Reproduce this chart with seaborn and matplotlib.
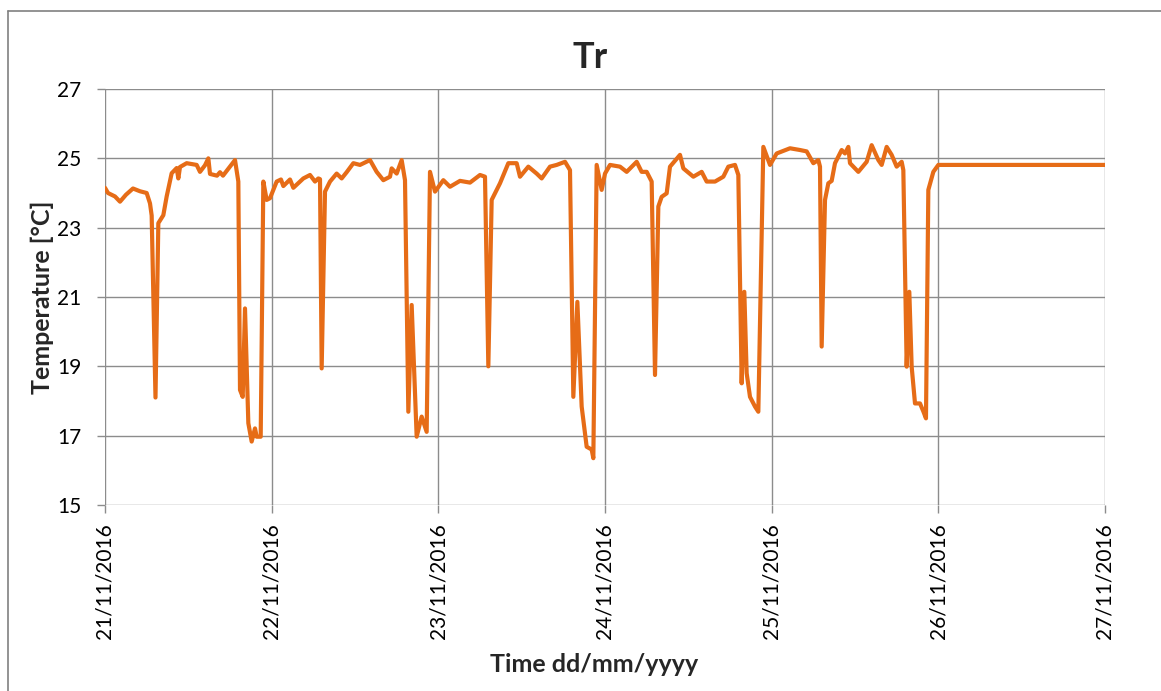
import matplotlib
matplotlib.use("Agg")
import matplotlib.pyplot as plt
import matplotlib.dates as mdates
from matplotlib.lines import Line2D
import seaborn as sns
import pandas as pd
import numpy as np

# ---- data (hours since 21/11/2016 00:00, temperature in °C) ----
hours = [0.0, 0.43, 1.44, 2.16, 3.02, 4.03, 5.04, 6.0, 6.48, 6.72, 6.91, 7.27, 7.68, 8.4, 8.88,
         9.6, 10.32, 10.56, 10.8, 11.76, 13.2, 13.68, 14.4, 14.88, 15.12, 16.13, 16.56, 16.99,
         18.0, 18.72, 19.2, 19.44, 19.83, 20.16, 20.64, 21.12, 21.6, 21.84, 22.42, 22.8, 23.28,
         23.76, 24.72, 25.34, 25.68, 26.64, 27.12, 28.56, 29.52, 30.24, 30.72, 30.96, 31.2,
         31.68, 32.4, 33.36, 34.08, 34.8, 35.76, 36.72, 38.16, 39.12, 40.08, 41.04, 41.28, 42.0,
         42.72, 43.2, 43.68, 44.16, 44.88, 45.6, 46.32, 46.8, 47.52, 48.72, 49.68, 51.12, 52.56,
         54.0, 54.72, 55.2, 55.68, 56.88, 58.08, 59.28, 59.76, 60.96, 62.16, 62.88, 64.08,
         65.04, 66.24, 66.96, 67.44, 68.02, 68.64, 69.36, 70.08, 70.32, 70.8, 71.52, 72.0,
         72.72, 74.16, 75.12, 76.56, 77.28, 78.0, 78.72, 79.2, 79.68, 80.16, 80.88, 81.36,
         82.8, 83.28, 84.72, 85.92, 86.64, 87.84, 89.04, 89.76, 90.72, 91.2, 91.68, 92.06,
         92.4, 92.88, 93.6, 94.08, 94.8, 95.76, 96.72, 98.64, 100.08, 101.04, 102.0, 102.72,
         102.96, 103.2, 103.68, 104.16, 104.64, 105.12, 106.08, 106.56, 107.04, 107.28,
         108.48, 109.68, 110.4, 111.36, 111.84, 112.56, 113.28, 114.0, 114.72, 114.96,
         115.44, 115.82, 116.16, 116.64, 117.36, 117.84, 118.22, 118.56, 119.28, 120.0, 144.0]
temp_c = [24.15, 24.0, 23.9, 23.75, 23.95, 24.13, 24.05, 24.0, 23.7, 23.35, 21.5, 18.1, 23.13,
          23.36, 23.9, 24.57, 24.72, 24.42, 24.75, 24.86, 24.81, 24.61, 24.8, 25.0, 24.55,
          24.5, 24.6, 24.5, 24.76, 24.95, 24.33, 18.32, 18.12, 20.67, 17.36, 16.83, 17.21,
          16.97, 16.97, 24.33, 23.8, 23.85, 24.33, 24.39, 24.2, 24.39, 24.15, 24.42, 24.52,
          24.33, 24.42, 24.4, 18.94, 24.04, 24.33, 24.56, 24.42, 24.6, 24.86, 24.81, 24.95,
          24.61, 24.37, 24.47, 24.71, 24.56, 24.95, 24.37, 17.69, 20.77, 16.97, 17.55, 17.11,
          24.61, 24.04, 24.37, 24.18, 24.35, 24.3, 24.52, 24.47, 19.0, 23.8, 24.28, 24.86,
          24.86, 24.47, 24.76, 24.56, 24.42, 24.76, 24.81, 24.9, 24.66, 18.12, 20.86, 17.84,
          16.68, 16.6, 16.35, 24.81, 24.09, 24.56, 24.81, 24.76, 24.61, 24.9, 24.61, 24.61,
          24.33, 18.75, 23.61, 23.89, 23.99, 24.76, 25.1, 24.71, 24.47, 24.61, 24.33, 24.33,
          24.47, 24.76, 24.81, 24.52, 18.51, 21.15, 18.8, 18.12, 17.84, 17.69, 25.33, 24.81,
          25.14, 25.29, 25.24, 25.2, 24.86, 24.95, 24.76, 19.57, 23.8, 24.28, 24.35, 24.86,
          25.24, 25.14, 25.33, 24.86, 24.61, 24.9, 25.38, 24.95, 24.81, 25.33, 25.1, 24.76,
          24.9, 24.66, 18.99, 21.15, 18.99, 17.93, 17.93, 17.7, 17.5, 24.09, 24.61, 24.81, 24.81]
start_date = "2016-11-21"
end_date = "2016-11-27"
y_ticks = [15, 17, 19, 21, 23, 25, 27]
title = "Tr"
x_label = "Time dd/mm/yyyy"
y_label = "Temperature [°C]"

df = pd.DataFrame({
    "time": pd.Timestamp(start_date) + pd.to_timedelta(hours, unit="h"),
    "temp": temp_c,
})

sns.set_style("white")
plt.rcParams["font.family"] = ["Lato", "DejaVu Sans"]

fig = plt.figure(figsize=(11.61, 6.91), dpi=100)
ax = fig.add_axes([105 / 1161, 1 - 505 / 691, 1000 / 1161, 416 / 691])

grid_c = "#8C8C8C"
sns.lineplot(data=df, x="time", y="temp", ax=ax, color="#E66C17", linewidth=3.0, zorder=3)

ax.set_xlim(pd.Timestamp(start_date), pd.Timestamp(end_date))
ax.set_ylim(y_ticks[0], y_ticks[-1])
ax.set_yticks(y_ticks)
ax.xaxis.set_major_locator(mdates.DayLocator())
ax.xaxis.set_major_formatter(mdates.DateFormatter("%d/%m/%Y"))
ax.grid(True, color=grid_c, linewidth=1.0)
for s in ax.spines.values():
    s.set_visible(False)

ax.tick_params(axis="y", direction="out", length=6, width=1.0, color=grid_c,
               pad=11, labelsize=15, labelcolor="black", left=True)
ax.tick_params(axis="x", direction="out", length=6, width=1.0, color=grid_c,
               pad=7, labelsize=15, labelcolor="black", bottom=True, labelrotation=90)

ax.set_xlabel(x_label, fontsize=18, fontweight="bold", labelpad=10)
ax.set_ylabel(y_label, fontsize=18, fontweight="bold", labelpad=10)
fig.text(590 / 1161, 1 - 58 / 691, title, fontsize=26, fontweight="bold",
         ha="center", va="center")
ax.xaxis.set_label_coords(0.489, (505 - 665) / 416)
ax.xaxis.label.set_va("center")
ax.yaxis.set_label_coords((42 - 105) / 1000, 0.5)
ax.yaxis.label.set_va("center")

# outer chart border (left and top visible)
fig.add_artist(Line2D([7.5 / 1161, 7.5 / 1161], [0, 1 - 10.5 / 691],
                      transform=fig.transFigure, color="#808080", linewidth=1.2))
fig.add_artist(Line2D([7.5 / 1161, 1], [1 - 10.5 / 691, 1 - 10.5 / 691],
                      transform=fig.transFigure, color="#808080", linewidth=1.2))

fig.savefig("out.png", dpi=100)
